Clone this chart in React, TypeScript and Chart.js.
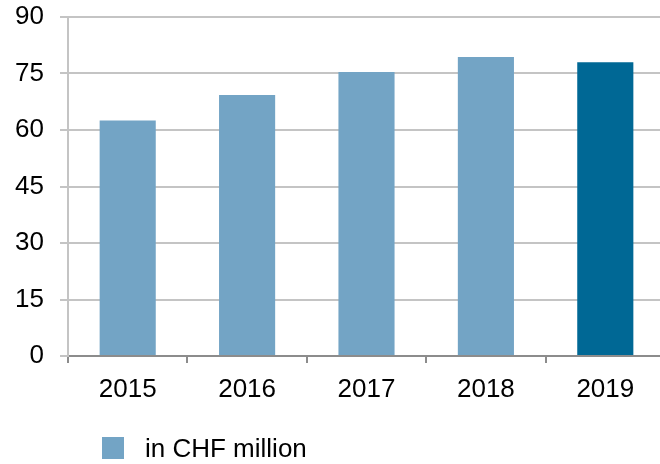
import React, { useEffect, useRef } from "react";
import { Chart, registerables } from "chart.js";

Chart.register(...registerables);

const categories = ["2015", "2016", "2017", "2018", "2019"];
const values = [62.5, 69.3, 75.4, 79.4, 78.0];
const seriesLabel = "in CHF million";
const yTicks = [0, 15, 30, 45, 60, 75, 90];

const LIGHT = "#73A4C5";
const DARK = "#006895";
const barColors = categories.map((_, i) => (i === categories.length - 1 ? DARK : LIGHT));

const FONT = "'Liberation Sans', Arial, sans-serif";
const FONT_SIZE = 26;

const legendPlugin = {
  id: "customLegend",
  afterDraw(chart: any) {
    const ctx = chart.ctx;
    const ds = chart.data.datasets[0];
    ctx.save();
    ctx.fillStyle = LIGHT;
    ctx.fillRect(102, 437, 22, 22);
    ctx.fillStyle = "#000";
    ctx.font = `${FONT_SIZE}px ${FONT}`;
    ctx.textBaseline = "middle";
    ctx.textAlign = "left";
    ctx.fillText(ds.label, 145, 450);
    ctx.restore();
  },
};

export default function App() {
  const ref = useRef<HTMLCanvasElement | null>(null);
  useEffect(() => {
    document.body.style.margin = "0";
    document.body.style.overflow = "hidden";
    const chart = new Chart(ref.current as HTMLCanvasElement, {
      type: "bar",
      data: {
        labels: categories,
        datasets: [
          {
            label: seriesLabel,
            data: values,
            backgroundColor: barColors,
            borderWidth: 0,
            barPercentage: 0.47,
            categoryPercentage: 1,
          },
        ],
      },
      plugins: [legendPlugin],
      options: {
        animation: false,
        responsive: false,
        maintainAspectRatio: false,
        layout: { padding: { top: 17, bottom: 54, left: 0, right: 0 } },
        plugins: { legend: { display: false }, tooltip: { enabled: false } },
        scales: {
          x: {
            offset: true,
            grid: {
              offset: true,
              drawOnChartArea: false,
              drawTicks: true,
              tickLength: 7,
              color: "#8C8C8C",
              lineWidth: 2,
            },
            border: { color: "#8C8C8C", width: 2 },
            ticks: { color: "#000", font: { family: FONT, size: FONT_SIZE }, padding: 11 },
            afterFit(scale: any) {
              scale.height = 54;
              scale.paddingLeft = 0;
              scale.paddingRight = 0;
            },
          },
          y: {
            min: 0,
            max: 90,
            afterBuildTicks(scale: any) {
              scale.ticks = yTicks.map((v) => ({ value: v }));
            },
            grid: { color: "#C4C4C4", lineWidth: 2, tickLength: 8, drawTicks: true },
            border: { color: "#C4C4C4", width: 2 },
            ticks: { color: "#000", font: { family: FONT, size: FONT_SIZE }, padding: 16 },
            afterFit(scale: any) {
              scale.width = 68;
              scale.paddingTop = 0;
              scale.paddingBottom = 0;
            },
          },
        },
      },
    });
    return () => chart.destroy();
  }, []);
  return (
    <div style={{ width: 660, height: 464, overflow: "hidden" }}>
      <canvas ref={ref} width={665} height={464} style={{ display: "block" }} />
    </div>
  );
}
